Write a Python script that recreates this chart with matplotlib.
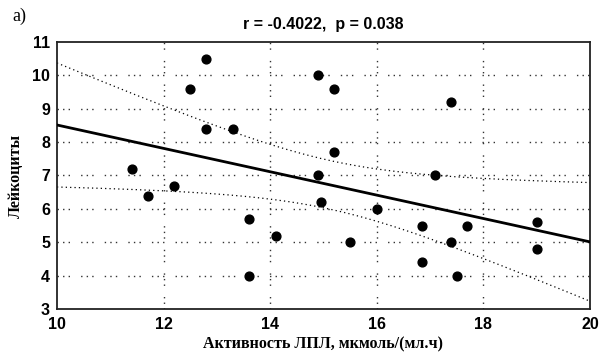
import matplotlib
matplotlib.use("Agg")
import matplotlib.pyplot as plt
import numpy as np

# data
lpl = [11.4, 11.7, 12.2, 12.5, 12.8, 12.8, 13.3, 13.6, 13.6, 14.1, 14.9, 14.9, 14.95,
       15.2, 15.2, 15.5, 16.0, 16.85, 16.85, 17.1, 17.4, 17.4, 17.5, 17.7, 19.0, 19.0]
leu = [7.2, 6.4, 6.7, 9.6, 10.5, 8.4, 8.4, 5.7, 4.0, 5.2, 7.0, 10.0, 6.2,
       9.6, 7.7, 5.0, 6.0, 5.5, 4.4, 7.0, 9.2, 5.0, 4.0, 5.5, 5.6, 4.8]
xticks = [10, 12, 14, 16, 18, 20]
yticks = [3, 4, 5, 6, 7, 8, 9, 10, 11]
title = "r = -0.4022,  p = 0.038"

x = np.array(lpl)
y = np.array(leu)
n = len(x)

# linear fit + 95% confidence band of the mean
b, a = np.polyfit(x, y, 1)
xs = np.linspace(10, 20, 200)
yhat = a + b * xs
resid = y - (a + b * x)
s = np.sqrt(np.sum(resid ** 2) / (n - 2))
tval = 2.064
se = s * np.sqrt(1.0 / n + (xs - x.mean()) ** 2 / np.sum((x - x.mean()) ** 2))

fig = plt.figure(figsize=(6.01, 3.58), dpi=100)
ax = fig.add_axes([0.0948, 0.1369, 0.8869, 0.7458])

grid_ls = (0, (1, 3, 1, 3, 1, 8))
for gx in xticks[1:-1]:
    ax.axvline(gx, color="#333333", lw=1.0, ls=grid_ls, zorder=1)
for gy in yticks[1:-1]:
    ax.axhline(gy, color="#333333", lw=1.0, ls=grid_ls, zorder=1)

ax.plot(xs, yhat, color="black", lw=2, zorder=3)
ax.plot(xs, yhat + tval * se, color="black", lw=0.9, ls=(0, (1, 2.5)), zorder=2)
ax.plot(xs, yhat - tval * se, color="black", lw=0.9, ls=(0, (1, 2.5)), zorder=2)
ax.scatter(x, y, s=40, color="black", zorder=4)

ax.set_xlim(10, 20)
ax.set_ylim(3, 11)
ax.set_xticks(xticks)
ax.set_yticks(yticks)
ax.tick_params(axis="x", length=0, pad=6)
ax.tick_params(axis="y", length=0, pad=5)
for lab in ax.get_xticklabels() + ax.get_yticklabels():
    lab.set_fontfamily("Liberation Sans")
    lab.set_fontweight("bold")
    lab.set_fontsize(11.5)
for sp in ax.spines.values():
    sp.set_linewidth(1.3)
    sp.set_color("#222222")

ax.set_title(title, fontfamily="Liberation Sans", fontweight="bold", fontsize=11.5, pad=9)
ax.set_xlabel("Активность ЛПЛ, мкмоль/(мл.ч)", fontfamily="Liberation Serif",
              fontweight="bold", fontsize=11.5, labelpad=3)
ax.set_ylabel("Лейкоциты", fontfamily="Liberation Serif", fontweight="bold",
              fontsize=11.5, labelpad=6)
fig.text(0.02, 0.955, "а)", fontfamily="Liberation Serif", fontsize=13, va="center")

fig.savefig("out.png", dpi=100)
